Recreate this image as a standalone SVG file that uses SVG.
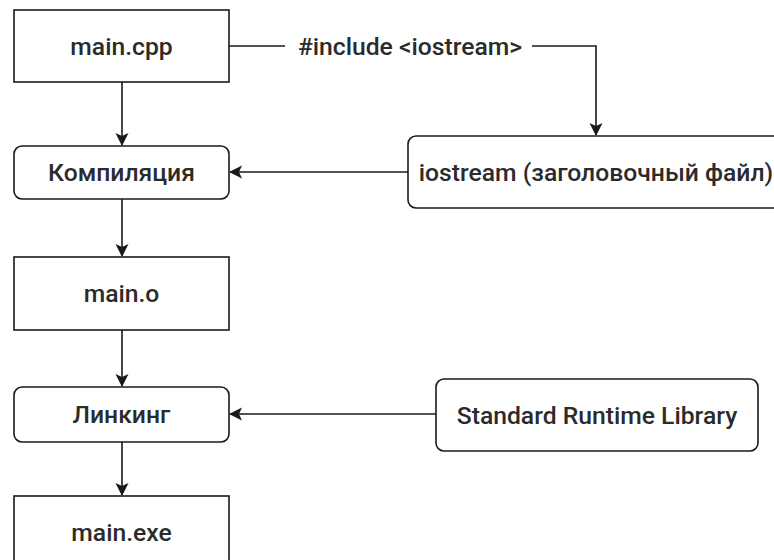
<svg xmlns="http://www.w3.org/2000/svg" width="774" height="560" viewBox="0 0 774 560">
  <style>
    .box { fill: #ffffff; stroke: #1a1a1a; stroke-width: 1.6; }
    .lbl { font-family: Roboto, "Liberation Sans", Arial, sans-serif; font-size: 24.7px; font-weight: 500; fill: #2b2b2b; text-anchor: middle; dominant-baseline: central; }
    .edge { fill: none; stroke: #1a1a1a; stroke-width: 1.6; }
  </style>
  <defs>
    <marker id="arrow" markerUnits="userSpaceOnUse" markerWidth="14" markerHeight="14" refX="12" refY="6.5" orient="auto">
      <path d="M0,0 L13,6.5 L0,13 L3,6.5 Z" fill="#1a1a1a"/>
    </marker>
  </defs>
  <rect width="774" height="560" fill="#ffffff"/>

  <!-- connectors -->
  <g id="connectors">
    <path class="edge" d="M122,82 V145" marker-end="url(#arrow)"/>
    <path class="edge" d="M122,199 V256" marker-end="url(#arrow)"/>
    <path class="edge" d="M122,330 V386" marker-end="url(#arrow)"/>
    <path class="edge" d="M122,442 V495" marker-end="url(#arrow)"/>
    <path class="edge" d="M408,172 H230" marker-end="url(#arrow)"/>
    <path class="edge" d="M436,414 H230" marker-end="url(#arrow)"/>
    <path class="edge" d="M229,46 H596 V135" marker-end="url(#arrow)"/>
    <rect x="285" y="32" width="247" height="28" fill="#ffffff"/>
    <text class="lbl" x="410" y="46">#include &lt;iostream&gt;</text>
  </g>

  <g id="main-cpp">
    <rect class="box" x="14" y="10" width="215" height="72"/>
    <text class="lbl" x="121.5" y="46">main.cpp</text>
  </g>

  <g id="compile">
    <rect class="box" x="14" y="146" width="215" height="53" rx="8" ry="8"/>
    <text class="lbl" x="121.5" y="172.5">Компиляция</text>
  </g>

  <g id="iostream">
    <rect class="box" x="408" y="136" width="376" height="72" rx="8" ry="8"/>
    <text class="lbl" x="596" y="172">iostream (заголовочный файл)</text>
  </g>

  <g id="main-o">
    <rect class="box" x="14" y="257" width="215" height="73"/>
    <text class="lbl" x="121.5" y="293.5">main.o</text>
  </g>

  <g id="link">
    <rect class="box" x="14" y="387" width="215" height="55" rx="8" ry="8"/>
    <text class="lbl" x="121.5" y="414.5">Линкинг</text>
  </g>

  <g id="runtime-lib">
    <rect class="box" x="436" y="379" width="322" height="72" rx="8" ry="8"/>
    <text class="lbl" x="597" y="415">Standard Runtime Library</text>
  </g>

  <g id="main-exe">
    <rect class="box" x="14" y="496" width="215" height="72"/>
    <text class="lbl" x="121.5" y="532">main.exe</text>
  </g>
</svg>
